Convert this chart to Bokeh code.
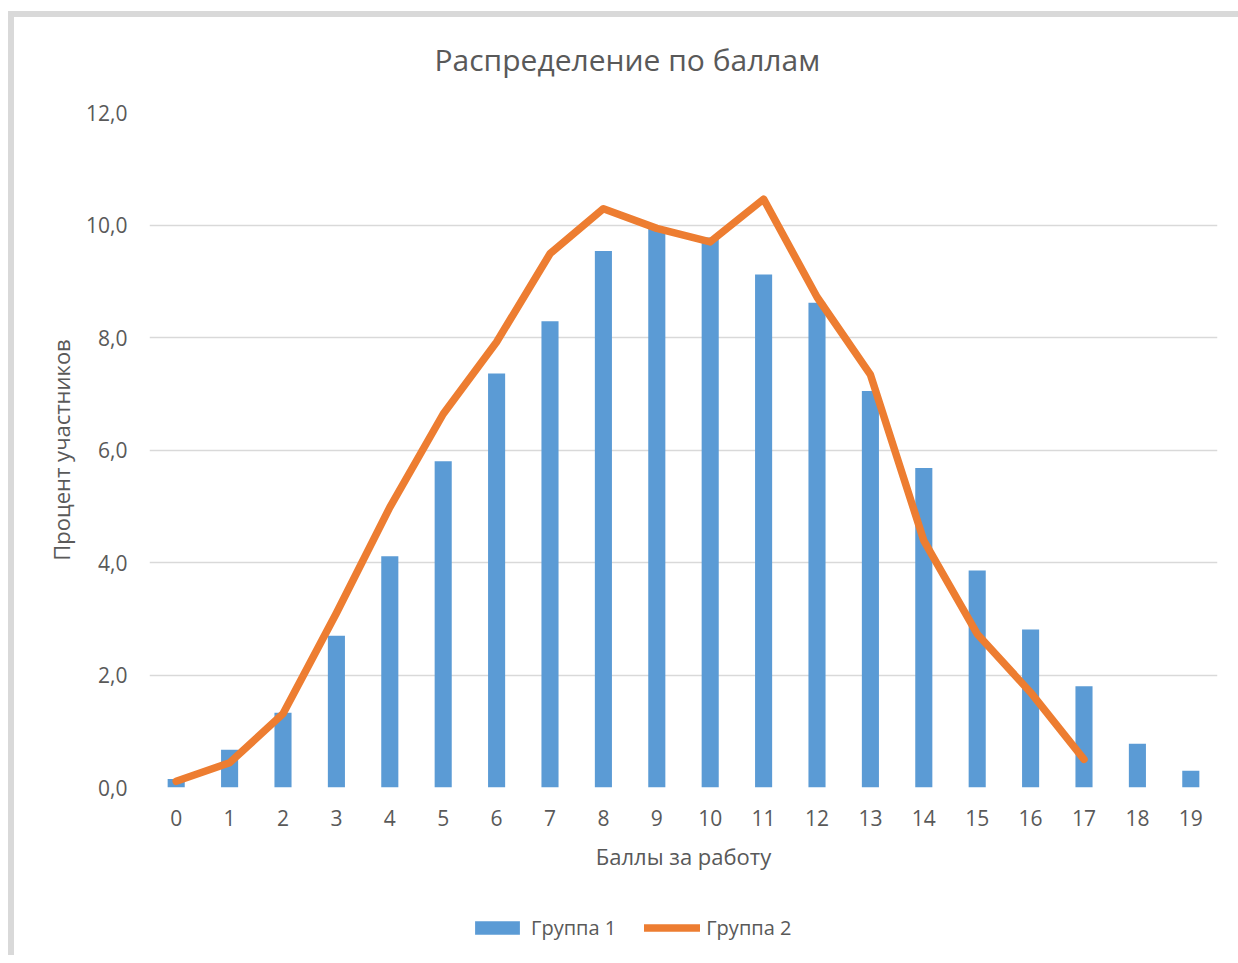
from bokeh.plotting import figure
from bokeh.layouts import column
from bokeh.models import FixedTicker, Legend, LegendItem, Title
from bokeh.embed import file_html
from bokeh.resources import INLINE

# ---- data ----
scores = list(range(20))
score_labels = [str(s) for s in scores]
group1 = [0.15, 0.67, 1.33, 2.70, 4.11, 5.80, 7.36, 8.29, 9.54, 9.96,
          9.78, 9.12, 8.62, 7.05, 5.68, 3.86, 2.81, 1.80, 0.78, 0.30]
group2_scores = list(range(18))
group2 = [0.11, 0.44, 1.31, 3.10, 4.98, 6.64, 7.92, 9.49, 10.29, 9.94,
          9.70, 10.46, 8.72, 7.34, 4.39, 2.73, 1.69, 0.50]
y_ticks = [0, 2, 4, 6, 8, 10, 12]
y_tick_labels = ["0,0", "2,0", "4,0", "6,0", "8,0", "10,0", "12,0"]

title_text = "Распределение по баллам"
x_title = "Баллы за работу"
y_title = "Процент участников"
series_names = ["Группа 1", "Группа 2"]

FONT = "Open Sans"
GREY_TXT = "#595959"
BLUE = "#5B9BD5"
ORANGE = "#ED7D31"

W, H, HL = 1224, 892, 60
p = figure(width=W, height=H, output_backend="svg", toolbar_location=None,
           x_range=(-0.5, 19.5), y_range=(0, 12),
           min_border_left=135, min_border_right=21,
           min_border_top=109, min_border_bottom=108)
p.outline_line_color = None
p.background_fill_color = "white"
p.border_fill_alpha = 0
p.styles = {"margin-top": "-14px"}

t = Title(text=title_text, align="left", offset=285, standoff=62,
          vertical_align="top",
          text_font=FONT, text_font_size="30px", text_font_style="normal",
          text_color=GREY_TXT)
p.add_layout(t, "above")

bars = p.vbar(x=scores, top=group1, width=0.32, color=BLUE, line_color=None)
ln = p.line(x=group2_scores, y=group2, line_color=ORANGE, line_width=7.5,
            line_join="round", line_cap="round")

p.xgrid.grid_line_color = None
p.ygrid.grid_line_color = "#d9d9d9"
p.ygrid.grid_line_width = 1.5
p.ygrid.ticker = FixedTicker(ticks=y_ticks)

for ax in (p.xaxis[0], p.yaxis[0]):
    ax.axis_line_color = None
    ax.major_tick_line_color = None
    ax.minor_tick_line_color = None
    ax.major_label_text_font = FONT
    ax.major_label_text_font_size = "21px"
    ax.major_label_text_color = GREY_TXT
    ax.axis_label_text_font = FONT
    ax.axis_label_text_font_size = "22px"
    ax.axis_label_text_font_style = "normal"
    ax.axis_label_text_color = GREY_TXT

p.xaxis.ticker = FixedTicker(ticks=scores)
p.xaxis.major_label_overrides = {s: l for s, l in zip(scores, score_labels)}
p.xaxis.major_label_standoff = 16
p.xaxis.axis_label = x_title
p.xaxis.axis_label_standoff = 12

p.yaxis.ticker = FixedTicker(ticks=y_ticks)
p.yaxis.major_label_overrides = {v: l for v, l in zip(y_ticks, y_tick_labels)}
p.yaxis.major_label_standoff = 16
p.yaxis.axis_label = y_title
p.yaxis.axis_label_standoff = 7

# ---- legend strip below the chart (same glyph styles as the series;
#      the series are drawn outside this strip's visible range) ----
leg = figure(width=W, height=HL, output_backend="svg", toolbar_location=None,
             x_range=(100, 101), y_range=(100, 101),
             x_axis_type=None, y_axis_type=None, min_border=0)
leg.outline_line_color = None
leg.grid.visible = False
leg.border_fill_color = "white"
leg_bars = leg.vbar(x=scores, top=group1, width=0.32, color=BLUE, line_color=None)
leg_line = leg.line(x=group2_scores, y=group2, line_color=ORANGE, line_width=7.5,
                    line_join="round", line_cap="round")
legend = Legend(items=[LegendItem(label=series_names[0], renderers=[leg_bars]),
                       LegendItem(label=series_names[1], renderers=[leg_line])],
                orientation="horizontal", location=(320, 14),
                glyph_width=56, glyph_height=17, label_standoff=6, spacing=28,
                padding=0, margin=0, border_line_color=None,
                background_fill_alpha=0,
                label_text_font=FONT, label_text_font_size="20px",
                label_text_color=GREY_TXT)
leg.add_layout(legend, "center")

layout = column(p, leg, spacing=0)
layout.styles = {"border-top": "6px solid #d9d9d9", "border-left": "6px solid #d9d9d9",
                 "margin-top": "11px", "margin-left": "8px"}

open("out.html", "w").write(file_html(layout, INLINE))
